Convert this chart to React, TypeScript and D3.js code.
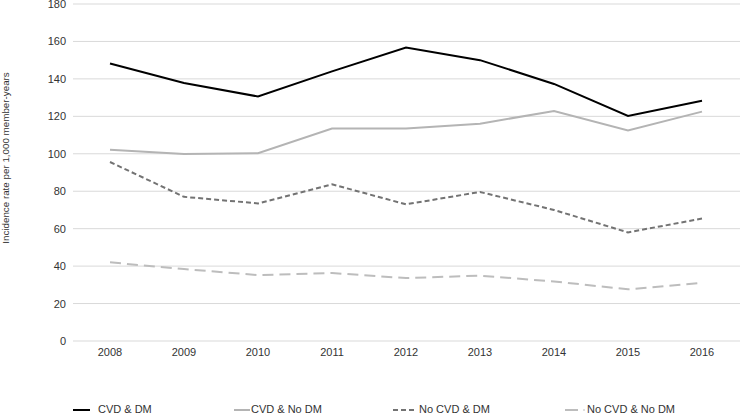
import React from "react";
import * as d3 from "d3";

const years = ["2008", "2009", "2010", "2011", "2012", "2013", "2014", "2015", "2016"];
const cvdDm = [148.2, 137.8, 130.6, 144.0, 156.8, 150.0, 137.3, 120.2, 128.3];
const cvdNoDm = [102.2, 99.9, 100.3, 113.5, 113.5, 116.1, 122.8, 112.4, 122.5];
const noCvdDm = [95.6, 77.0, 73.5, 83.7, 73.0, 79.6, 70.0, 58.0, 65.4];
const noCvdNoDm = [42.0, 38.4, 35.2, 36.3, 33.6, 34.9, 31.8, 27.6, 31.0];
const yTicks = [0, 20, 40, 60, 80, 100, 120, 140, 160, 180];
const seriesNames = ["CVD & DM", "CVD & No DM", "No CVD & DM", "No CVD & No DM"];

const W = 740, H = 413;
const left = 73, right = 739, top = 4, bottom = 341;

export default function App() {
  const x = d3.scaleBand<string>().domain(years).range([left, right]);
  const y = d3.scaleLinear().domain([0, 180]).range([bottom, top]);
  const line = d3.line<number>().x((_, i) => (x(years[i]) as number) + x.bandwidth() / 2).y((d) => y(d));
  const series = [
    { name: seriesNames[0], data: cvdDm, color: "#000000", dash: "", w: 2 },
    { name: seriesNames[1], data: cvdNoDm, color: "#b4b4b4", dash: "", w: 2 },
    { name: seriesNames[2], data: noCvdDm, color: "#737373", dash: "5,3", w: 2 },
    { name: seriesNames[3], data: noCvdNoDm, color: "#bdbdbd", dash: "11,6", w: 2 },
  ];
  const legendLine = [[73, 90], [234, 250], [393, 416], [565, 578]];
  const legendText = [98, 251, 419, 587];
  const font = "'Liberation Sans', Arial, sans-serif";
  return (
    <svg width={W} height={H} style={{ position: "absolute", left: 0, top: 0 }} fontFamily={font}>
      <rect width={W} height={H} fill="#fff" />
      {yTicks.map((t) => (
        <g key={t}>
          <line x1={left} x2={right + 1} y1={y(t)} y2={y(t)} stroke="#d9d9d9" strokeWidth={1} />
          <text x={66} y={y(t) + 4} textAnchor="end" fontSize={11} fill="#333">{t}</text>
        </g>
      ))}
      {years.map((yr) => (
        <text key={yr} x={(x(yr) as number) + x.bandwidth() / 2} y={356} textAnchor="middle" fontSize={11} fill="#333">{yr}</text>
      ))}
      <text transform={`translate(9,158) rotate(-90)`} textAnchor="middle" fontSize={9.8} fill="#333">
        Incidence rate per 1,000 member-years
      </text>
      {series.map((s) => (
        <path key={s.name} d={line(s.data) || ""} fill="none" stroke={s.color} strokeWidth={s.w} strokeDasharray={s.dash || undefined} />
      ))}
      {series.map((s, i) => (
        <g key={s.name}>
          <line x1={legendLine[i][0]} x2={legendLine[i][1]} y1={410} y2={410} stroke={s.color} strokeWidth={s.w} strokeDasharray={s.dash ? (i === 2 ? "5,3" : undefined) : undefined} />
          {i === 3 && <line x1={583} x2={585} y1={410} y2={410} stroke={s.color} strokeWidth={1} />}
          <text x={legendText[i]} y={413} fontSize={11} fill="#333">{s.name}</text>
        </g>
      ))}
    </svg>
  );
}
